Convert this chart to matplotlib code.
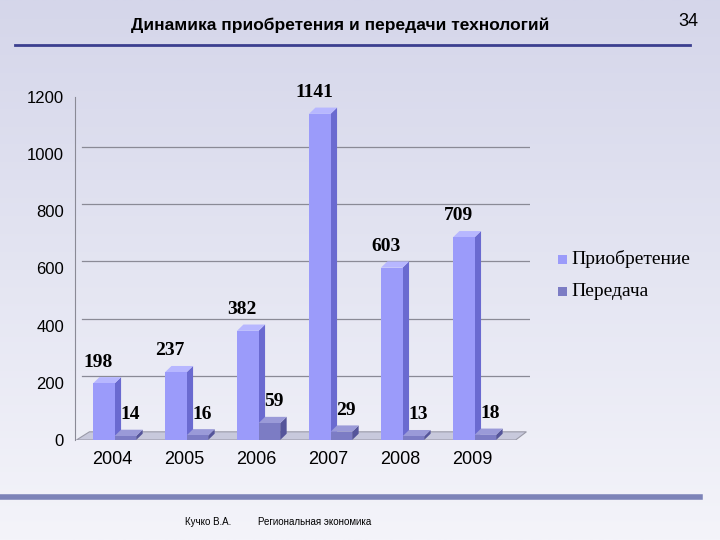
import matplotlib
matplotlib.use("Agg")
import matplotlib.pyplot as plt
import numpy as np
from matplotlib.patches import Polygon, Rectangle
from matplotlib.colors import LinearSegmentedColormap

years = ["2004", "2005", "2006", "2007", "2008", "2009"]
acquisition = [198, 237, 382, 1141, 603, 709]
transfer = [14, 16, 59, 29, 13, 18]
yticks = [0, 200, 400, 600, 800, 1000, 1200]

fig = plt.figure(figsize=(7.2, 5.4), dpi=100)
bg = fig.add_axes([0, 0, 1, 1], zorder=-10)
grad = np.linspace(0, 1, 256).reshape(-1, 1)
cm = LinearSegmentedColormap.from_list("bg", ["#d5d6ea", "#e4e5f2", "#f4f4fa"])
bg.imshow(grad, aspect="auto", cmap=cm, extent=[0, 1, 0, 1])
bg.axis("off")

ax = fig.add_axes([75/720, 100/540, 455/720, 343/540])
ax.set_facecolor("none")
x = np.arange(len(years))
w = 0.3
dx, dy = 0.09, 22

def bar3d(xc, h, front, side, top):
    ax.add_patch(Polygon([[xc + w/2, 0], [xc + w/2 + dx, dy], [xc + w/2 + dx, h + dy], [xc + w/2, h]],
                         closed=True, fc=side, ec="none", zorder=3))
    ax.add_patch(Polygon([[xc - w/2, h], [xc - w/2 + dx, h + dy], [xc + w/2 + dx, h + dy], [xc + w/2, h]],
                         closed=True, fc=top, ec="none", zorder=3))
    ax.bar(xc, h, width=w, color=front, zorder=4)

for i in x:
    bar3d(i - 0.12, acquisition[i], "#9b9bfa", "#6a6ad0", "#b7b7ff")
    bar3d(i + 0.18, transfer[i], "#7c7cc4", "#55559a", "#9a9ad8")
    ax.text(i - 0.2, acquisition[i] + 45, str(acquisition[i]), ha="center", va="bottom",
            family="Liberation Serif", fontweight="bold", fontsize=14)
    ax.text(i + 0.25, transfer[i] + 45, str(transfer[i]), ha="center", va="bottom",
            family="Liberation Serif", fontweight="bold", fontsize=14)

ax.add_patch(Polygon([[-0.5, 0], [-0.5 + dx*2, dy*1.3], [5.75, dy*1.3], [5.6, 0]], closed=True,
                     fc="#c8c9dc", ec="#9a9aa8", lw=0.8, zorder=1))
ax.set_xlim(-0.52, 5.8)
ax.set_ylim(0, 1200)
ax.set_yticks(yticks)
ax.set_yticklabels([str(t) for t in yticks], fontsize=12, family="Liberation Sans")
for t in yticks[1:]:
    ax.plot([-0.42, 5.8], [t + 25, t + 25], color="#8a8a96", lw=0.9, zorder=0)
ax.set_xticks(x)
ax.set_xticklabels(years, fontsize=13, family="Liberation Sans")
ax.tick_params(length=0, pad=8)
for s in ["top", "right", "bottom"]:
    ax.spines[s].set_visible(False)
ax.spines["left"].set_color("#8a8a96")

fig.patches.append(Rectangle((558/720, (540-264)/540), 9/720, 9/540, transform=fig.transFigure, fc="#9b9bfa"))
fig.patches.append(Rectangle((558/720, (540-296)/540), 9/720, 9/540, transform=fig.transFigure, fc="#7c7cc4"))
fig.text(571/720, (540-259)/540, "Приобретение", family="Liberation Serif", fontsize=14, va="center")
fig.text(571/720, (540-291)/540, "Передача", family="Liberation Serif", fontsize=14, va="center")

fig.text(340/720, 1 - 25/540, "Динамика приобретения и передачи технологий", ha="center", va="center",
         family="Liberation Sans", fontsize=12.5, fontweight="bold")
fig.text(688/720, 1 - 22/540, "34", ha="center", va="center", family="Liberation Sans", fontsize=13)
fig.text(185/720, 1 - 522/540, "Кучко В.А.", family="Liberation Sans", fontsize=7, va="center")
fig.text(258/720, 1 - 522/540, "Региональная экономика", family="Liberation Sans", fontsize=7, va="center")
fig.add_artist(plt.Line2D([15/720, 690/720], [1 - 45/540]*2, color="#3b3f8f", lw=2))
fig.add_artist(plt.Line2D([0, 700/720], [1 - 497/540]*2, color="#7d83b8", lw=4))

fig.savefig("out.png", dpi=100)
